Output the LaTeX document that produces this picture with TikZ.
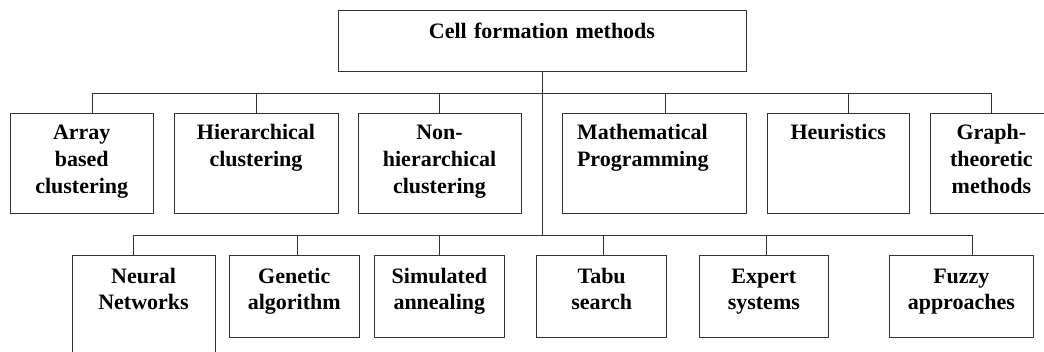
\documentclass[tikz,border=0pt]{standalone}
\usepackage{fontspec}
\setmainfont{Liberation Serif}
\usepackage{tikz}
\usetikzlibrary{positioning}
\tikzstyle{method} = [rectangle, draw=black!80, line width=1pt, inner sep=0pt, outer sep=0pt, align=center, font=\fontsize{22}{26.7}\selectfont\bfseries]
\tikzstyle{rowone} = [method, text height=26.5pt, text depth=74pt]
\tikzstyle{rowtwo} = [method, text height=27.5pt, text depth=54.8pt]
\tikzstyle{link} = [draw=black!80, line width=1pt]

\begin{document}
\begin{tikzpicture}[x=1pt, y=-1pt]
\useasboundingbox (0,0) rectangle (1044,352);

% Root
\node (root) [method, text width=408pt, text height=28pt, text depth=33pt] at (542,41.5) {Cell formation methods};

% First row
\node (arr) [rowone, text width=142.5pt, anchor=north west] at (10.5,113.5) {Array\\based\\clustering};
\node (hier) [rowone, text width=164pt, right=21pt of arr] {Hierarchical\\clustering};
\node (nonh) [rowone, text width=163pt, right=20pt of hier] {Non-\\hierarchical\\clustering};
\node (math) [rowone, text width=154.5pt, inner xsep=14.5pt, align=left, right=41.5pt of nonh] {Mathematical\\Programming};
\node (heur) [rowone, text width=142.5pt, right=21pt of math] {Heuristics};
\node (graph) [rowone, text width=121pt, right=21.4pt of heur] {Graph-\\theoretic\\methods};

% Second row
\node (ga) [rowtwo, text width=129.5pt, anchor=north west] at (229.5,255.7) {Genetic\\algorithm};
\node (nn) [rowtwo, text width=143pt, text depth=116pt, left=14.5pt of ga.north west, anchor=north east] {Neural\\Networks};
\node (sa) [rowtwo, text width=129.5pt, right=15.6pt of ga] {Simulated\\annealing};
\node (tabu) [rowtwo, text width=129.7pt, right=32.7pt of sa] {Tabu\\search};
\node (exp) [rowtwo, text width=129.5pt, right=32.6pt of tabu] {Expert\\systems};
\node (fuzzy) [rowtwo, text width=143.5pt, right=61pt of exp] {Fuzzy\\approaches};

% Connectors
\coordinate (busone) at (0,94);
\coordinate (bustwo) at (0,235.7);
\draw [link] (root.south) -- (root.south |- bustwo);
\foreach \n/\dx in {arr/11, hier/0, nonh/0, math/11, heur/10, graph/0}
  \draw [link] ([xshift=\dx]\n.north) |- (root.south |- busone);
\foreach \n/\dx in {nn/-10.5, ga/3, sa/0, tabu/2, exp/3, fuzzy/11}
  \draw [link] ([xshift=\dx]\n.north) |- (root.south |- bustwo);

\end{tikzpicture}
\end{document}
